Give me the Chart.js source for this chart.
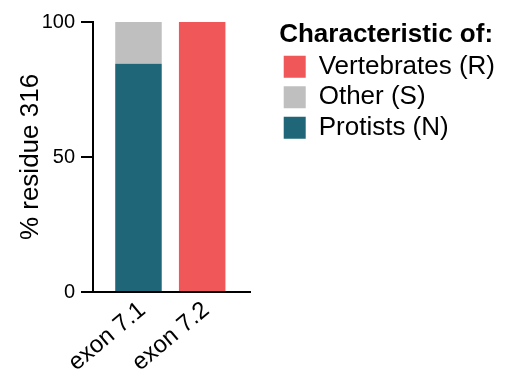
<!DOCTYPE html>
<html>
<head>
<meta charset="utf-8">
<script src="https://cdn.jsdelivr.net/npm/chart.js@4"></script>
<style>
  html, body { margin: 0; padding: 0; background: #fff; }
</style>
</head>
<body>
<canvas id="residueChart" width="516" height="374"></canvas>
<script>
// categories and values (% of residue 316)
const exons = ['exon 7.1', 'exon 7.2'];
const protists = [84.5, 0];
const other = [15.5, 0];
const vertebrates = [0, 100];
const yTicks = [0, 50, 100];

// bars sit at x = 1, 2 on a linear axis so the axis line can run past them
const xPos = exons.map((e, i) => i + 1);
const toPoints = vals => vals.map((v, i) => ({ x: xPos[i], y: v }));

Chart.defaults.font.family = '"Liberation Sans", Arial, sans-serif';
Chart.defaults.color = '#000';

// the layout caps a side legend at a quarter of the width, let it be wider
const wideLegend = {
    id: 'wideLegend',
    beforeLayout(chart) {
        const lg = chart.legend;
        if (!lg || lg._wide) return;
        const fit = lg.fit;
        lg.fit = function () { this.maxWidth = 260; fit.call(this); };
        lg._wide = true;
    }
};

const ctx = document.getElementById('residueChart').getContext('2d');

const residueChart = new Chart(ctx, {
    type: 'bar',
    data: {
        datasets: [
            { label: 'Protists (N)', data: toPoints(protists), backgroundColor: '#1f6679', borderWidth: 0 },
            { label: 'Other (S)', data: toPoints(other), backgroundColor: '#bfbfbf', borderWidth: 0 },
            { label: 'Vertebrates (R)', data: toPoints(vertebrates), backgroundColor: '#f05759', borderWidth: 0 }
        ]
    },
    plugins: [wideLegend],
    options: {
        responsive: false,
        animation: false,
        categoryPercentage: 1,
        barPercentage: 0.73,
        layout: { padding: { top: 22, right: 11, bottom: 0, left: 0 } },
        plugins: {
            tooltip: { enabled: false },
            legend: {
                position: 'right',
                align: 'start',
                reverse: true,
                title: {
                    display: true,
                    text: 'Characteristic of:',
                    position: 'start',
                    padding: 0,
                    font: { size: 26, weight: 'bold', lineHeight: 1.05 }
                },
                labels: {
                    boxWidth: 22,
                    boxHeight: 22,
                    padding: 4.5,
                    font: { size: 26 }
                }
            }
        },
        scales: {
            x: {
                type: 'linear',
                offset: false,
                stacked: true,
                min: 0.286,
                max: 2.762,
                afterBuildTicks: s => { s.ticks = xPos.map(v => ({ value: v })); },
                afterFit: s => { s.height = 82; },
                grid: { display: false, drawTicks: false },
                border: { display: true, color: '#000', width: 2 },
                ticks: {
                    minRotation: 40,
                    maxRotation: 40,
                    labelOffset: 4,
                    padding: 4,
                    font: { size: 24 },
                    callback: v => exons[v - 1]
                }
            },
            y: {
                stacked: true,
                min: 0,
                max: 100,
                afterBuildTicks: s => { s.ticks = yTicks.map(v => ({ value: v })); },
                afterFit: s => { s.width = 93; },
                grid: { drawOnChartArea: false, drawTicks: true, tickLength: 12, color: '#000', lineWidth: 2 },
                border: { display: true, color: '#000', width: 2 },
                ticks: { padding: 6, font: { size: 20 } },
                title: {
                    display: true,
                    text: '% residue 316',
                    padding: { top: 15, bottom: 0 },
                    font: { size: 26 }
                }
            },
            // empty spacer between the plot and the legend
            gap: {
                type: 'linear',
                position: 'right',
                display: true,
                grid: { display: false },
                border: { display: false },
                ticks: { display: false },
                afterFit: s => { s.width = 28.5; }
            }
        }
    }
});
</script>
</body>
</html>
